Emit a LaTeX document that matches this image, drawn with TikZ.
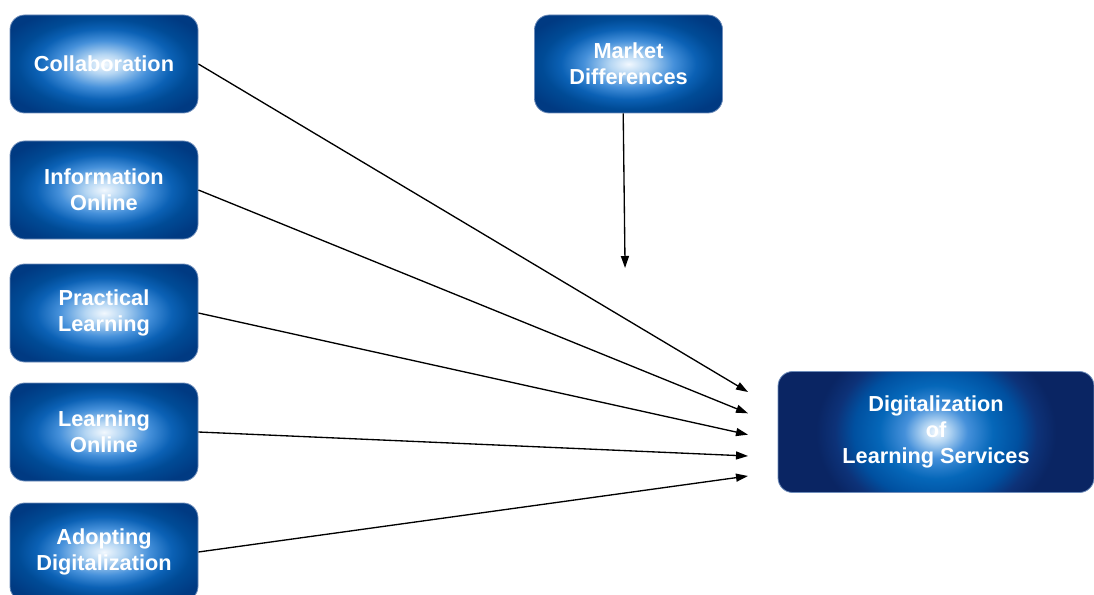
\documentclass[tikz,border=0pt]{standalone}
\usepackage{fontspec}
\setmainfont{Liberation Sans}
\usepackage{tikz}
\usetikzlibrary{positioning,arrows.meta}

\definecolor{glowc}{HTML}{F2F8FE}
\definecolor{glowa}{HTML}{B5D6F3}
\definecolor{glowb}{HTML}{4590DA}
\definecolor{midb}{HTML}{0B61B5}
\definecolor{sideb}{HTML}{004B96}
\definecolor{edgeb}{HTML}{003A82}
\definecolor{tmidb}{HTML}{0567B9}
\definecolor{tsideb}{HTML}{0050A0}
\definecolor{tdarkb}{HTML}{0D3278}
\definecolor{tedgeb}{HTML}{0A2563}
\definecolor{edgeline}{HTML}{6F8DBA}
\pgfdeclareradialshading{factorglow}{\pgfpointorigin}{color(0bp)=(glowc); color(5bp)=(glowa); color(12bp)=(glowb); color(18bp)=(midb); color(23bp)=(sideb); color(30bp)=(edgeb); color(50bp)=(edgeb)}
\pgfdeclareradialshading{targetglow}{\pgfpointorigin}{color(0bp)=(glowc); color(2bp)=(glowa); color(5bp)=(glowb); color(9bp)=(tmidb); color(13bp)=(tsideb); color(16bp)=(tdarkb); color(19bp)=(tedgeb); color(50bp)=(tedgeb)}

\begin{document}
\begin{tikzpicture}[node distance=91.5pt,on grid,line width=1pt,>={Triangle[length=9pt,width=6pt]},font=\fontsize{16.3}{19.5}\selectfont\bfseries,box/.style={rectangle,rounded corners=11pt,align=center,text=white,draw=edgeline,line width=0.6pt},factor/.style={box,minimum width=141pt,minimum height=73.5pt,shading=factorglow},target/.style={box,minimum width=237pt,minimum height=90.75pt,fill=tedgeb,path picture={\shade[shading=targetglow] (path picture bounding box.center) circle (97.5pt);}}]
	\useasboundingbox (0,0) rectangle (820.5pt,-446.25pt);
	\node[factor] (f_1) at (78pt,-48pt) {Collaboration};
	\node[factor] (f_2) [below=94.5pt of f_1] {Information\\Online};
	\node[factor] (f_3) [below=92.25pt of f_2] {Practical\\Learning};
	\node[factor] (f_4) [below=89.25pt of f_3] {Learning\\Online};
	\node[factor] (f_5) [below=90pt of f_4] {Adopting\\Digitalization};
	\node[factor] (m_0) [right=393.4pt of f_1] {Market\\Differences};
	\node[target] (t_0) [right=624pt of f_4] {Digitalization\\of\\Learning Services};
	\foreach \i/\dy in {1/30,2/14,3/-2,4/-18,5/-33}
	\coordinate (e_\i) at ([shift={(-141pt,\dy pt)}]t_0.center);
	\coordinate (m_e) at ([shift={(-2.6pt,-153pt)}]m_0.center);
	\path[->]
	(f_1.east) edge (e_1)
	(f_2.east) edge (e_2)
	(f_3.east) edge (e_3)
	(f_4.east) edge (e_4)
	(f_5.east) edge (e_5)
	([xshift=-4pt]m_0.south) edge (m_e);
\end{tikzpicture}
\end{document}
